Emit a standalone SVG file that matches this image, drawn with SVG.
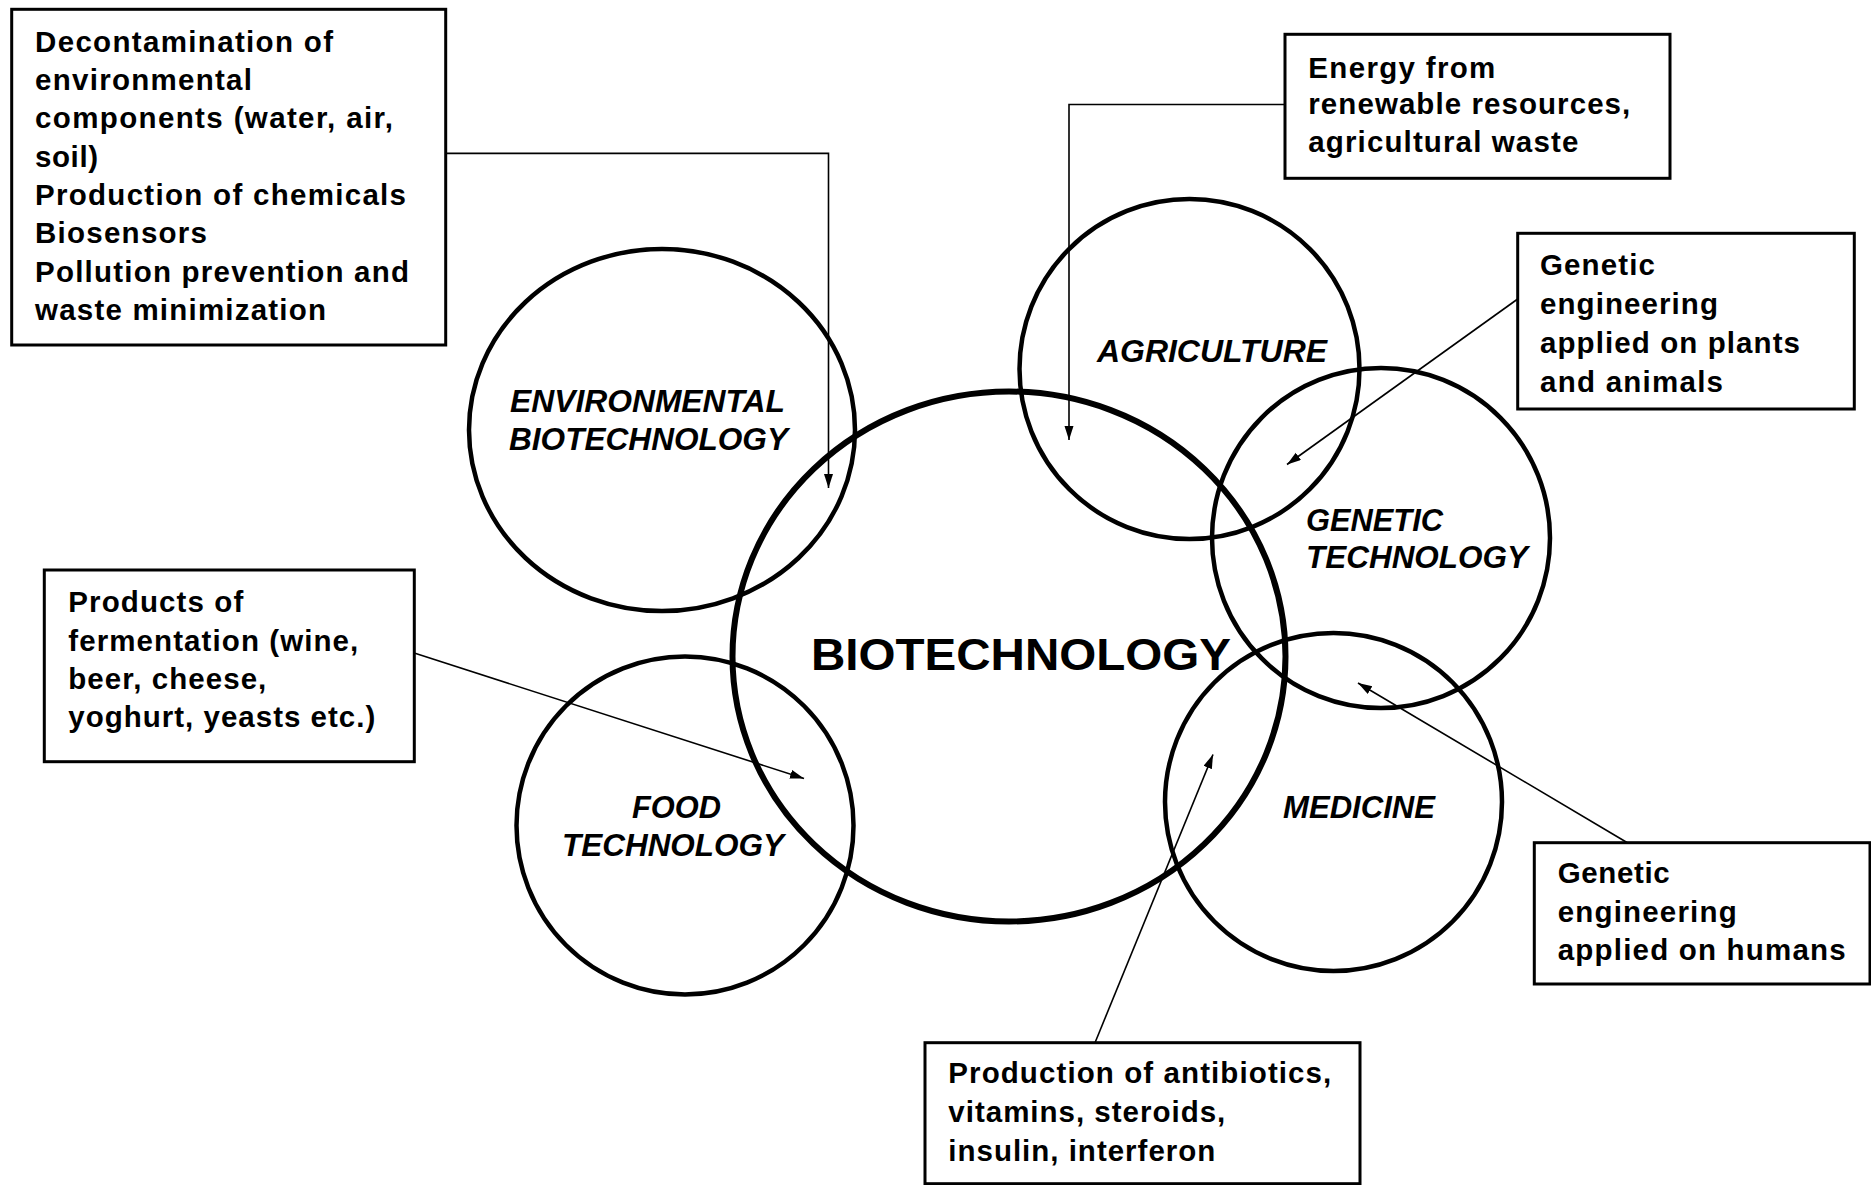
<svg xmlns="http://www.w3.org/2000/svg" width="1871" height="1185" viewBox="0 0 1871 1185">
<style>
  .bg { fill: #ffffff; }
  .circle { fill: none; stroke: #000; stroke-width: 4.5; }
  .big { fill: none; stroke: #000; stroke-width: 6; }
  .box { fill: #ffffff; stroke: #000; stroke-width: 3; }
  .conn { fill: none; stroke: #000; stroke-width: 1.6; }
  .bt { font-family: "Liberation Sans", Arial, sans-serif; font-size: 29.5px; font-weight: bold; fill: #000; }
  .lbl { font-family: "Liberation Sans", Arial, sans-serif; font-size: 30.5px; font-weight: bold; font-style: italic; fill: #000; }
  .main { font-family: "Liberation Sans", Arial, sans-serif; font-size: 45px; font-weight: bold; fill: #000; }
</style>
<defs>
  <marker id="arr" markerUnits="userSpaceOnUse" markerWidth="16" markerHeight="10" refX="14" refY="4.5" orient="auto">
    <path d="M0,0 L14,4.5 L0,9 z" fill="#000"/>
  </marker>
</defs>
<rect class="bg" x="0" y="0" width="1871" height="1185"/>

<g id="circles">
  <g id="node-environmental">
    <ellipse class="circle" cx="662" cy="430" rx="193" ry="181"/>
    <text class="lbl" x="510" y="411.5" textLength="275" lengthAdjust="spacingAndGlyphs">ENVIRONMENTAL</text>
    <text class="lbl" x="509" y="449.5" textLength="279" lengthAdjust="spacingAndGlyphs">BIOTECHNOLOGY</text>
  </g>
  <g id="node-agriculture">
    <ellipse class="circle" cx="1189.5" cy="369" rx="170" ry="170"/>
    <text class="lbl" x="1097" y="362" textLength="230" lengthAdjust="spacingAndGlyphs">AGRICULTURE</text>
  </g>
  <g id="node-genetic">
    <ellipse class="circle" cx="1381" cy="538" rx="169" ry="170"/>
    <text class="lbl" x="1306" y="530.5" textLength="137" lengthAdjust="spacingAndGlyphs">GENETIC</text>
    <text class="lbl" x="1306" y="568" textLength="222" lengthAdjust="spacingAndGlyphs">TECHNOLOGY</text>
  </g>
  <g id="node-medicine">
    <ellipse class="circle" cx="1333.5" cy="802" rx="168.5" ry="169"/>
    <text class="lbl" x="1283" y="818" textLength="152" lengthAdjust="spacingAndGlyphs">MEDICINE</text>
  </g>
  <g id="node-food">
    <ellipse class="circle" cx="685" cy="825.5" rx="168.5" ry="169"/>
    <text class="lbl" x="632" y="818" textLength="89" lengthAdjust="spacingAndGlyphs">FOOD</text>
    <text class="lbl" x="562" y="856" textLength="222" lengthAdjust="spacingAndGlyphs">TECHNOLOGY</text>
  </g>
  <g id="node-biotechnology">
    <ellipse class="big" cx="1009" cy="656.5" rx="276.5" ry="265"/>
    <text class="main" x="811" y="670" textLength="420" lengthAdjust="spacingAndGlyphs">BIOTECHNOLOGY</text>
  </g>
</g>

<g id="connectors">
  <polyline class="conn" points="446,153.4 828.5,153.4 828.5,488" marker-end="url(#arr)"/>
  <polyline class="conn" points="1285,104.5 1069,104.5 1069,440" marker-end="url(#arr)"/>
  <line class="conn" x1="1517.7" y1="299" x2="1287" y2="464.5" marker-end="url(#arr)"/>
  <line class="conn" x1="415" y1="653.3" x2="804" y2="778.5" marker-end="url(#arr)"/>
  <line class="conn" x1="1627" y1="842.5" x2="1358" y2="683" marker-end="url(#arr)"/>
  <line class="conn" x1="1095" y1="1042.7" x2="1213" y2="754.5" marker-end="url(#arr)"/>
</g>

<g id="node-box-environmental">
  <rect class="box" x="11.7" y="9.3" width="434" height="335.7"/>
  <text class="bt" x="35" y="51.7" textLength="298" lengthAdjust="spacing">Decontamination of</text>
  <text class="bt" x="35" y="90" textLength="217" lengthAdjust="spacing">environmental</text>
  <text class="bt" x="35" y="128.3" textLength="358" lengthAdjust="spacing">components (water, air,</text>
  <text class="bt" x="35" y="166.7" textLength="63" lengthAdjust="spacing">soil)</text>
  <text class="bt" x="35" y="205" textLength="371" lengthAdjust="spacing">Production of chemicals</text>
  <text class="bt" x="35" y="243.3" textLength="172" lengthAdjust="spacing">Biosensors</text>
  <text class="bt" x="35" y="281.7" textLength="374" lengthAdjust="spacing">Pollution prevention and</text>
  <text class="bt" x="35" y="320" textLength="291" lengthAdjust="spacing">waste minimization</text>
</g>

<g id="node-box-energy">
  <rect class="box" x="1285" y="34.3" width="385" height="144"/>
  <text class="bt" x="1308.3" y="77.7" textLength="187" lengthAdjust="spacing">Energy from</text>
  <text class="bt" x="1308.3" y="114.3" textLength="322" lengthAdjust="spacing">renewable resources,</text>
  <text class="bt" x="1308.3" y="151.7" textLength="270" lengthAdjust="spacing">agricultural waste</text>
</g>

<g id="node-box-plants">
  <rect class="box" x="1517.7" y="233.3" width="336.6" height="175.7"/>
  <text class="bt" x="1540" y="275" textLength="115" lengthAdjust="spacing">Genetic</text>
  <text class="bt" x="1540" y="314" textLength="178" lengthAdjust="spacing">engineering</text>
  <text class="bt" x="1540" y="353" textLength="260" lengthAdjust="spacing">applied on plants</text>
  <text class="bt" x="1540" y="392" textLength="183" lengthAdjust="spacing">and animals</text>
</g>

<g id="node-box-fermentation">
  <rect class="box" x="44.3" y="570" width="370" height="191.7"/>
  <text class="bt" x="68.3" y="611.7" textLength="175" lengthAdjust="spacing">Products of</text>
  <text class="bt" x="68.3" y="650.7" textLength="290" lengthAdjust="spacing">fermentation (wine,</text>
  <text class="bt" x="68.3" y="689.3" textLength="198" lengthAdjust="spacing">beer, cheese,</text>
  <text class="bt" x="68.3" y="727" textLength="307" lengthAdjust="spacing">yoghurt, yeasts etc.)</text>
</g>

<g id="node-box-humans">
  <rect class="box" x="1534.3" y="842.7" width="335.7" height="141.3"/>
  <text class="bt" x="1557.7" y="883.3" textLength="112" lengthAdjust="spacing">Genetic</text>
  <text class="bt" x="1557.7" y="921.7" textLength="179" lengthAdjust="spacing">engineering</text>
  <text class="bt" x="1557.7" y="959.5" textLength="288" lengthAdjust="spacing">applied on humans</text>
</g>

<g id="node-box-antibiotics">
  <rect class="box" x="925" y="1042.7" width="435" height="141"/>
  <text class="bt" x="948.3" y="1083.3" textLength="383" lengthAdjust="spacing">Production of antibiotics,</text>
  <text class="bt" x="948.3" y="1121.7" textLength="277" lengthAdjust="spacing">vitamins, steroids,</text>
  <text class="bt" x="948.3" y="1160.7" textLength="267" lengthAdjust="spacing">insulin, interferon</text>
</g>
</svg>
